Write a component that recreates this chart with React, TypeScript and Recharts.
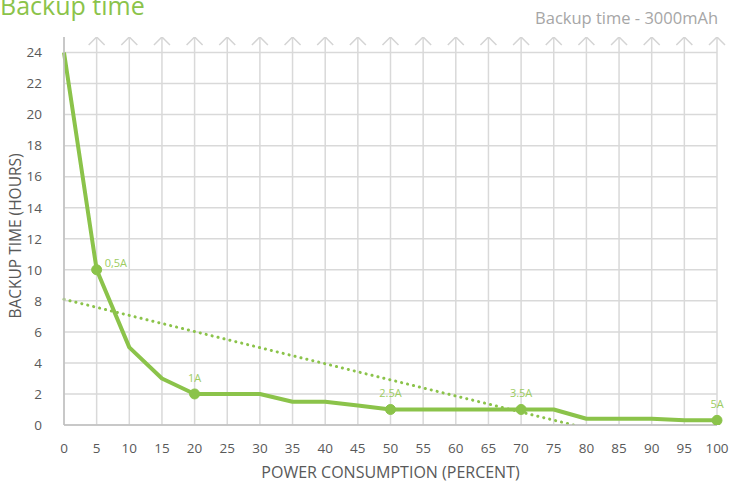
import React from 'react';
import { LineChart, Line, XAxis, YAxis, CartesianGrid, LabelList } from 'recharts';

const percent = [0, 5, 10, 15, 20, 25, 30, 35, 40, 45, 50, 55, 60, 65, 70, 75, 80, 85, 90, 95, 100];
const hours = [24, 10, 5, 3, 2, 2, 2, 1.5, 1.5, 1.25, 1, 1, 1, 1, 1, 1, 0.4, 0.4, 0.4, 0.3, 0.3];
const currents = ['', '0,5A', '', '', '1A', '', '', '', '', '', '2.5A', '', '', '', '3.5A', '', '', '', '', '', '5A'];

// dotted trend line (start and where it hits zero)
const trendX = [0, 78];
const trendY = [8.1, 0];

const xTicks = percent;
const yTicks = [0, 2, 4, 6, 8, 10, 12, 14, 16, 18, 20, 22, 24];
const yMax = 25;

const data = percent.map((p, i) => ({ p, hours: hours[i], label: currents[i] }));
const trend = trendX.map((p, i) => ({ p, trend: trendY[i] }));
// arrow heads sit on top of each vertical grid line (not on the y axis)
const arrows = percent.filter((p) => p > 0).map((p) => ({ p, top: yMax }));

const GREEN = '#8bc34a';
const LABEL_GREEN = '#9dcc5f';
const TEXT = '#595959';
const FONT = '"Open Sans", sans-serif';

const MarkerDot = (props: any) => {
    const { cx, cy, payload } = props;
    if (!payload || !payload.label) return <g />;
    return <circle cx={cx} cy={cy} r={5} fill={GREEN} stroke={GREEN} />;
};

const ArrowDot = (props: any) => {
    const { cx, cy } = props;
    return (
        <path
            d={`M${cx - 8},${cy + 8} L${cx},${cy} L${cx + 8},${cy + 8}`}
            fill="none"
            stroke="#d4d4d4"
            strokeWidth={1.5}
        />
    );
};

const CurrentLabel = (props: any) => {
    const { x, y, value } = props;
    if (!value) return null;
    const right = value === '0,5A';
    return (
        <text
            x={right ? x + 8 : x}
            y={right ? y - 3 : y - 12}
            fill={LABEL_GREEN}
            fontSize={11}
            fontFamily={FONT}
            textAnchor={right ? 'start' : 'middle'}
        >
            {value}
        </text>
    );
};

const YTitle = (props: any) => {
    const { viewBox } = props;
    const cy = viewBox.y + viewBox.height / 2 + 5;
    return (
        <text x={15} y={cy} transform={`rotate(-90, 15, ${cy})`} textAnchor="middle" dominantBaseline="central"
            fill={TEXT} fontSize={15.5} fontFamily={FONT}>
            BACKUP TIME (HOURS)
        </text>
    );
};

const XTitle = (props: any) => {
    const { viewBox } = props;
    const cx = viewBox.x + viewBox.width / 2;
    return (
        <text x={cx} y={472} textAnchor="middle" dominantBaseline="central" fill={TEXT} fontSize={16} fontFamily={FONT}>
            POWER CONSUMPTION  (PERCENT)
        </text>
    );
};

export default function App() {
    return (
        <div style={{ position: 'absolute', left: 0, top: 0, width: 732, height: 484, background: '#fff', fontFamily: FONT, overflow: 'hidden' }}>
            <div style={{ position: 'absolute', left: 0, top: -9, fontSize: 25, lineHeight: '28px', color: GREEN }}>Backup time</div>
            <div style={{ position: 'absolute', right: 14, top: 6, fontSize: 16.5, color: '#a6a6a6' }}>Backup time - 3000mAh</div>
            <LineChart width={732} height={484} margin={{ top: 37, right: 15, left: 0, bottom: 0 }}>
                <CartesianGrid stroke="#d9d9d9" strokeWidth={1.5} horizontalValues={yTicks} verticalValues={xTicks} />
                <XAxis
                    dataKey="p"
                    type="number"
                    domain={[0, 100]}
                    ticks={xTicks}
                    interval={0}
                    stroke="#bfbfbf"
                    strokeWidth={1.5}
                    tickLine={false}
                    tickMargin={12}
                    height={59}
                    tick={{ fill: TEXT, fontSize: 13.5, fontFamily: FONT }}
                    label={<XTitle />}
                />
                <YAxis
                    type="number"
                    domain={[0, yMax]}
                    ticks={yTicks}
                    interval={0}
                    stroke="#bfbfbf"
                    strokeWidth={1.5}
                    tickLine={false}
                    tickMargin={16}
                    width={64}
                    allowDataOverflow
                    tick={{ fill: TEXT, fontSize: 13.5, fontFamily: FONT }}
                    label={<YTitle />}
                />
                <Line
                    data={arrows}
                    dataKey="top"
                    stroke="none"
                    dot={<ArrowDot />}
                    activeDot={false}
                    isAnimationActive={false}
                />
                <Line
                    data={trend}
                    dataKey="trend"
                    stroke={GREEN}
                    strokeWidth={3}
                    strokeDasharray="0.1 6"
                    strokeLinecap="round"
                    dot={false}
                    activeDot={false}
                    isAnimationActive={false}
                />
                <Line
                    data={data}
                    dataKey="hours"
                    stroke={GREEN}
                    strokeWidth={4}
                    strokeLinejoin="round"
                    dot={<MarkerDot />}
                    activeDot={false}
                    isAnimationActive={false}
                >
                    <LabelList dataKey="label" content={<CurrentLabel />} />
                </Line>
            </LineChart>
        </div>
    );
}
